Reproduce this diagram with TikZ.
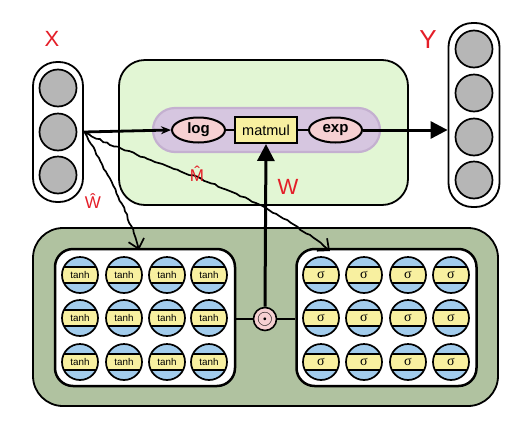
\documentclass[tikz,border=0pt]{standalone}
\usepackage{fontspec}
\setmainfont{Liberation Sans}
\newfontfamily\greekserif{Liberation Serif}
\usetikzlibrary{arrows.meta,decorations.pathmorphing,shapes.geometric}
\definecolor{panelgreen}{RGB}{226,246,212}
\definecolor{darkgreen}{RGB}{176,194,160}
\definecolor{capsule}{RGB}{214,198,224}
\definecolor{capsuleline}{RGB}{196,176,208}
\definecolor{pinkfill}{RGB}{246,208,210}
\definecolor{yelfill}{RGB}{248,240,160}
\definecolor{bluefill}{RGB}{162,204,236}
\definecolor{grayfill}{RGB}{182,182,182}
\definecolor{handred}{RGB}{228,30,40}
\begin{document}
\begin{tikzpicture}[x=1pt,y=-1pt,
  column/.style={draw,line width=1.8pt,fill=white,rounded corners=24pt,minimum width=50pt,inner sep=0pt},
  ball/.style={circle,draw,line width=1.7pt,fill=grayfill,minimum size=37pt,inner sep=0pt},
  panel/.style={draw,line width=1.8pt,rounded corners=26pt,inner sep=0pt},
  whitebox/.style={draw,line width=2.5pt,fill=white,rounded corners=18pt,minimum width=180pt,minimum height=137pt,inner sep=0pt},
  opnode/.style={ellipse,draw,line width=2pt,fill=pinkfill,minimum width=53pt,minimum height=25pt,inner sep=0pt,font=\fontsize{15}{16}\selectfont\bfseries},
  cell/.style={circle,draw,line width=1.7pt,fill=bluefill,minimum size=36pt,inner sep=0pt,
    path picture={
      \fill[yelfill] (path picture bounding box.center) ++(-20pt,-8pt) rectangle ++(40pt,16pt);
      \draw[line width=1.5pt] (path picture bounding box.center) ++(-20pt,-8pt) -- ++(40pt,0pt);
      \draw[line width=1.5pt] (path picture bounding box.center) ++(-20pt,8pt) -- ++(40pt,0pt);
    }},
  tanhcell/.style={cell,font=\fontsize{9.8}{10}\selectfont},
  sigcell/.style={cell,font=\fontsize{14}{14}\selectfont\greekserif},
  bigarrow/.style={line width=3pt,-{Triangle[length=17pt,width=17pt]}},
  wire/.style={line width=2.8pt},
  hand/.style={line width=1.7pt,decorate,decoration={random steps,segment length=4pt,amplitude=0.8pt,post length=8pt},
    -{Straight Barb[length=9pt,width=16pt,line width=1.7pt]}},
  handlabel/.style={text=handred,inner sep=0pt,font=\fontsize{22}{24}\selectfont}
]
\pgfmathsetseed{7}
\useasboundingbox (0,0) rectangle (531,421);

% top panel
\node[panel,fill=panelgreen,minimum width=289pt,minimum height=145pt] (top) at (263.5,132.5) {};
\node[draw=capsuleline,line width=2.2pt,fill=capsule,rounded corners=22pt,minimum width=227pt,minimum height=44pt,inner sep=0pt] (caps) at (266.5,130) {};

% bottom panel
\node[panel,fill=darkgreen,rounded corners=30pt,minimum width=465pt,minimum height=178pt] (bottom) at (265.5,317) {};
\node[whitebox] (lbox) at (145,317.5) {};
\node[whitebox] (rbox) at (386.5,317.5) {};

% X column
\node[column,minimum height=140pt] (xcol) at (58,132) {};
\node[ball] (x1) at (58,88) {};
\node[ball] (x2) at (58,132) {};
\node[ball] (x3) at (58,175) {};

% Y column
\node[column,minimum height=184pt,minimum width=51pt] (ycol) at (474,115) {};
\node[ball] (y1) at (474,49) {};
\node[ball] (y2) at (474,93) {};
\node[ball] (y3) at (474,137) {};
\node[ball] (y4) at (474,180) {};

% operations
\node[opnode] (log) at (198.5,130) {log};
\node[draw,line width=2pt,fill=yelfill,minimum width=62pt,minimum height=26pt,inner sep=0pt,font=\fontsize{14.5}{15}\selectfont] (matmul) at (266,130) {matmul};
\node[opnode] (exp) at (335.5,130) {exp};

% cells
\foreach \c/\x in {1/80,2/124,3/167,4/209} {
  \foreach \r/\y in {1/275,2/318,3/362} {
    \node[tanhcell] (t\r\c) at (\x,\y) {tanh};
  }
}
\foreach \c/\x in {1/321,2/364,3/408,4/451} {
  \foreach \r/\y in {1/275,2/318,3/362} {
    \node[sigcell] (s\r\c) at (\x,\y) {σ};
  }
}

% odot
\node[circle,draw,line width=1.6pt,fill=pinkfill,minimum size=23pt,inner sep=0pt,font=\fontsize{20}{20}\selectfont] (prod) at (265,319) {$\odot$};

% connectors
\draw[wire] (lbox.east |- prod) -- (prod.west);
\draw[wire] (prod.east) -- (rbox.west |- prod);
\draw[bigarrow] (prod.north) -- (matmul.south);
\draw[wire] (log.east) -- (matmul.west);
\draw[wire] (matmul.east) -- (exp.west);
\draw[bigarrow] (exp.east) -- (ycol.west |- exp);
\draw[line width=2.8pt,-{Stealth[length=10pt,width=8pt]}] (x2.east -| xcol.east) -- (log.west);

\coordinate (xo) at (85,133);
\coordinate (tl) at (139,250);
\coordinate (tr) at (330,251);
\draw[hand] (xo) .. controls (105,170) and (130,215) .. (tl);
\draw[hand] (xo) .. controls (150,165) and (250,185) .. (tr);

% hand labels
\node[handlabel] (lx) at (52,39) {X};
\node[handlabel,font=\fontsize{26}{28}\selectfont] (ly) at (428,40) {Y};
\node[handlabel,font=\fontsize{17}{19}\selectfont] (lw) at (93,201) {\^{W}};
\node[handlabel,font=\fontsize{17}{19}\selectfont] (lm) at (197,174) {\^{M}};
\node[handlabel] (lw2) at (288,187) {W};
\end{tikzpicture}
\end{document}
